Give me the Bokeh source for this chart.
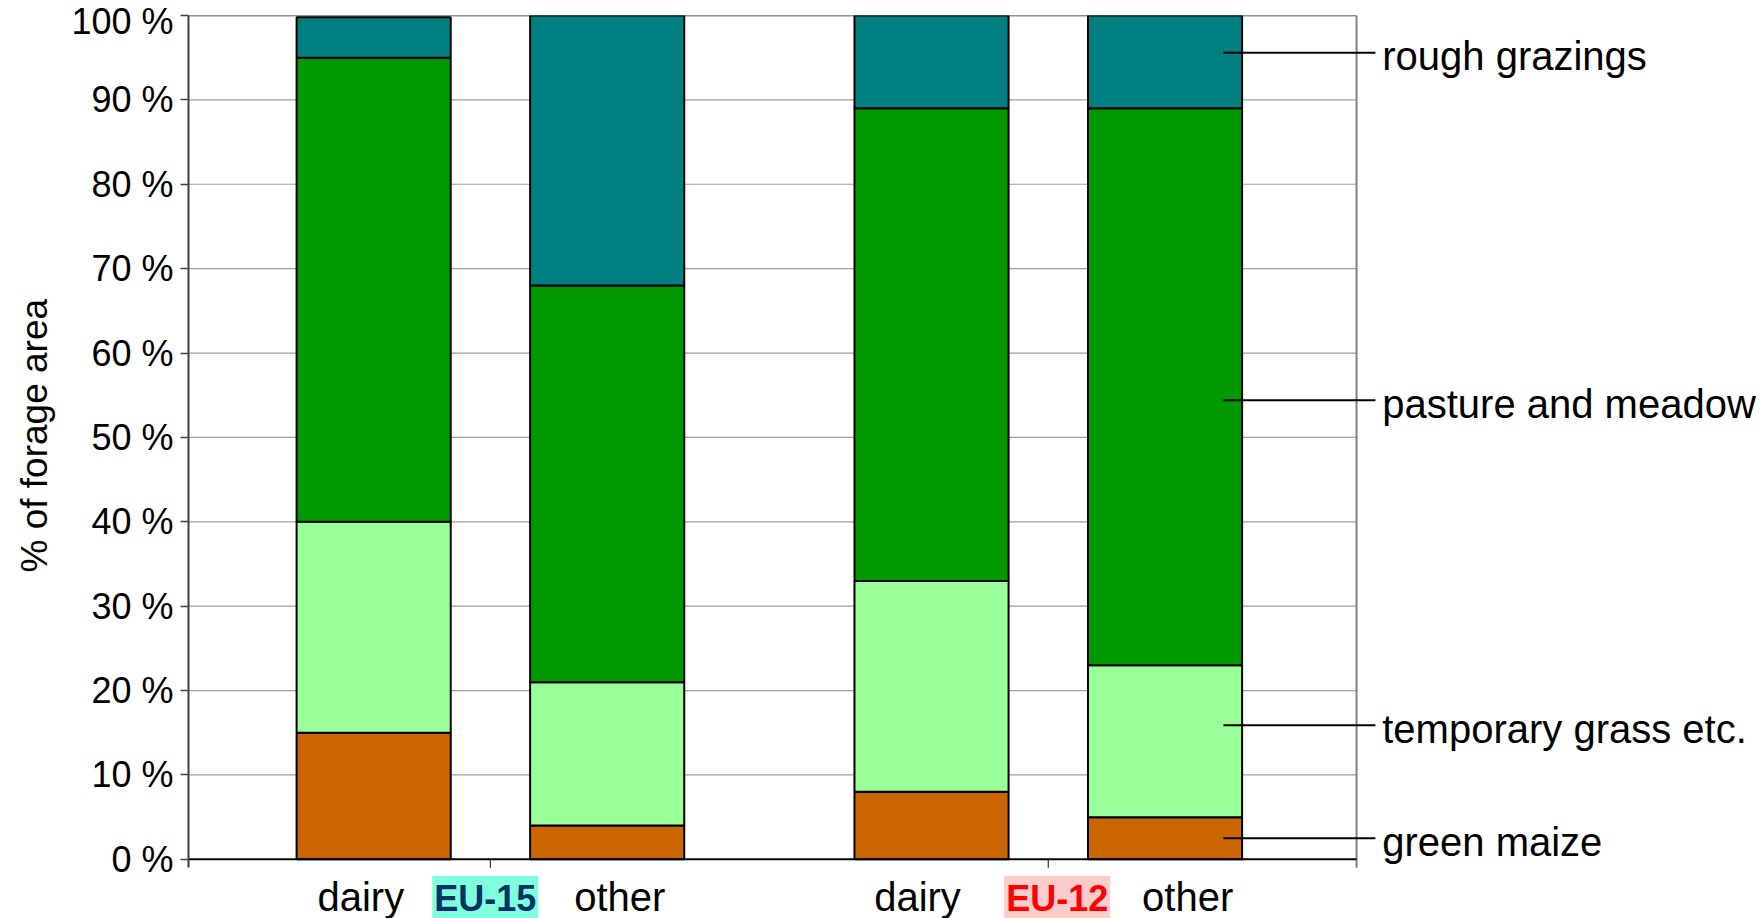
from bokeh.plotting import figure
from bokeh.models import ColumnDataSource, Range1d, FixedTicker, Title
from bokeh.core.properties import value
from bokeh.embed import file_html
from bokeh.resources import INLINE

# ---------------- data ----------------
groups = ["EU-15", "EU-12"]
farm_types = ["dairy", "other"]
green_maize = [15, 4, 8, 5]
temporary_grass = [25, 17, 25, 18]
pasture_meadow = [55, 47, 56, 66]
rough_grazings = [4.8, 32, 11, 11]
series_names = ["green maize", "temporary grass etc.", "pasture and meadow", "rough grazings"]
series_colors = ["#CC6600", "#99FF99", "#009900", "#008080"]
label_y = [2.5, 15.9, 54.4, 95.6]          # heights of the leader lines (% axis)
y_ticks = [0, 10, 20, 30, 40, 50, 60, 70, 80, 90, 100]
group_fill = ["#80FFDD", "#FFCCCC"]
group_text_color = ["#003366", "#FF0000"]
y_title = "% of forage area"

# ---------------- layout constants ----------------
GROUP_STEP = 2.389
BAR_W = 0.66
X_START, X_END, X_FRAME = -0.793, 5.939, 4.209
Y_BOTTOM = -7.01
FONT = "Liberation Sans"
CAT_SHIFT = [[-0.555, 0.554], [-0.56, 0.597]]   # category label offsets from group centre
GROUP_SHIFT = [-0.022, 0.038]                    # group label offsets from group centre

xs = [g * GROUP_STEP + c for g in range(len(groups)) for c in range(len(farm_types))]
src = ColumnDataSource(dict(x=xs, maize=green_maize, temp=temporary_grass,
                            pasture=pasture_meadow, rough=rough_grazings))

p = figure(width=1760, height=918, x_range=Range1d(X_START, X_END),
           y_range=Range1d(Y_BOTTOM, 100), x_axis_type=None,
           output_backend="svg", toolbar_location=None,
           min_border_left=188, min_border_right=0, min_border_top=15, min_border_bottom=0)
p.outline_line_color = None
p.ygrid.visible = False
p.background_fill_color = "white"

# grid lines (only inside the plot box)
grid_y = y_ticks[1:-1]
p.segment(x0=[X_START] * len(grid_y), x1=[X_FRAME] * len(grid_y), y0=grid_y, y1=grid_y,
          line_color="#A0A0A0", line_width=1.2)
p.segment(x0=[X_START], x1=[X_FRAME], y0=[y_ticks[-1]], y1=[y_ticks[-1]],
          line_color="#202020", line_width=1.5)
# right border of plot box
p.segment(x0=[X_FRAME], x1=[X_FRAME], y0=[-1], y1=[y_ticks[-1]],
          line_color="#808080", line_width=2)

# stacked bars
p.vbar_stack(["maize", "temp", "pasture", "rough"], x="x", width=BAR_W,
             color=series_colors, line_color="black", line_width=2, source=src)

# x axis line and group ticks
p.segment(x0=[X_START], x1=[X_FRAME], y0=[0], y1=[0], line_color="black", line_width=2)
gcenters = [g * GROUP_STEP + 0.5 for g in range(len(groups))]
p.segment(x0=gcenters, x1=gcenters, y0=[0] * len(groups), y1=[-1] * len(groups),
          line_color="#303030", line_width=1.2)

# category labels
cat_x = [gc + CAT_SHIFT[g][c] for g, gc in enumerate(gcenters) for c in range(len(farm_types))]
cat_t = [ft for _ in groups for ft in farm_types]
p.text(x=cat_x, y=[-4.5] * len(cat_x), text=cat_t, text_font=value(FONT),
       text_font_size="40px", text_align="center", text_baseline="middle", text_color="black")

# group labels with coloured background
for gc, sh, gname, fill, col in zip(gcenters, GROUP_SHIFT, groups, group_fill, group_text_color):
    p.text(x=[gc + sh], y=[-4.6], text=[gname], text_font=value(FONT), text_font_style="bold",
           text_font_size="36px", text_align="center", text_baseline="middle",
           text_color=col, background_fill_color=fill, padding=2)

# leader lines and series labels
lx0 = xs[-1] + 0.25
lx1 = X_FRAME + 0.081
p.segment(x0=[lx0] * len(label_y), x1=[lx1] * len(label_y), y0=label_y, y1=label_y,
          line_color="black", line_width=2)
p.text(x=[X_FRAME + 0.110] * len(label_y), y=[v - 0.4 for v in label_y], text=series_names,
       text_font=value(FONT), text_font_size="40px", text_align="left",
       text_baseline="middle", text_color="black")

# y axis
ya = p.yaxis[0]
ya.bounds = (-1, 100)
ya.ticker = FixedTicker(ticks=y_ticks)
ya.major_label_overrides = {t: f"{t} %" for t in y_ticks}
ya.axis_line_color = "#404040"
ya.axis_line_width = 2
ya.major_tick_line_color = "#404040"
ya.major_tick_line_width = 1.5
ya.major_tick_out = 8
ya.major_tick_in = 0
ya.minor_tick_out = 0
ya.minor_tick_in = 0
ya.major_label_text_font = FONT
ya.major_label_text_font_size = "36px"
ya.major_label_text_color = "black"
ya.major_label_standoff = 7

# y axis title
ytitle = Title(text=y_title, align="left", offset=346, vertical_align="top",
               text_font=FONT, text_font_size="37px", text_font_style="normal",
               text_color="black", standoff=24)
p.add_layout(ytitle, "left")

open("out.html", "w").write(file_html(p, INLINE))
